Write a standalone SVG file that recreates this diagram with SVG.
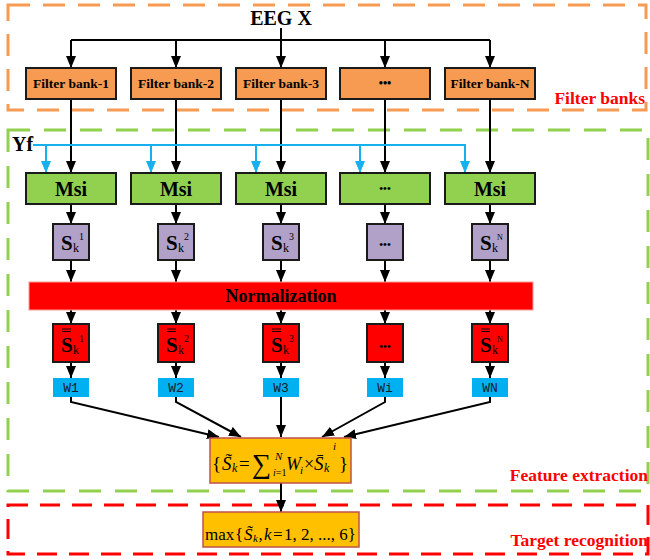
<svg xmlns="http://www.w3.org/2000/svg" width="650" height="560" viewBox="0 0 650 560">
<style>
.t{font-family:"Liberation Serif","Times New Roman",serif;fill:#000}
.b{font-weight:bold}
.i{font-style:italic}
.lbl{font-family:"Liberation Serif",serif;font-weight:bold;font-size:17.5px;fill:#FF0000}
.fb{fill:#F79A52;stroke:#1a1a1a;stroke-width:2}
.msi{fill:#92D050;stroke:#1a1a1a;stroke-width:2}
.sb{fill:#B1A0C7;stroke:#1a1a1a;stroke-width:2}
.rb{fill:#FF0000;stroke:#1a1a1a;stroke-width:2}
.wb{fill:#00B0F0;stroke:none}
.fx{fill:#FFC000;stroke:#C0504D;stroke-width:1.5}
.ln{fill:none;stroke:#000;stroke-width:2;marker-end:url(#ak)}
.bl{fill:none;stroke:#16B0EE;stroke-width:2;marker-end:url(#ab)}
.w{font-family:"Liberation Mono","DejaVu Sans Mono",monospace;font-size:13px;fill:#1a1a2a}
.fbt{font-size:13.5px}
.ms{font-size:20px}
.S{font-size:21px}
.sub{font-size:12px}
.sup{font-size:10px}
.bar{stroke:#1a0000;stroke-width:1;fill:none}
</style>
<defs>
<marker id="ak" markerUnits="userSpaceOnUse" markerWidth="12" markerHeight="12" refX="12" refY="5" orient="auto">
<path d="M0,0 L12,5 L0,10 z" fill="#000"/>
</marker>
<marker id="ab" markerUnits="userSpaceOnUse" markerWidth="12" markerHeight="12" refX="12" refY="5" orient="auto">
<path d="M0,0 L12,5 L0,10 z" fill="#16B0EE"/>
</marker>
</defs>
<rect width="650" height="560" fill="#fff"/>

<g id="regions">
<rect x="8" y="5" width="638" height="105" fill="none" stroke="#F79A52" stroke-width="3" stroke-dasharray="22 13"/>
<rect x="8" y="130" width="640" height="361" fill="none" stroke="#92D050" stroke-width="3" stroke-dasharray="22 14"/>
<rect x="8" y="505" width="640" height="49" fill="none" stroke="#FF0000" stroke-width="3" stroke-dasharray="20 12"/>
<text class="lbl" x="645" y="104" text-anchor="end">Filter banks</text>
<text class="lbl" x="648" y="481" text-anchor="end">Feature extraction</text>
<text class="lbl" x="648" y="546" text-anchor="end">Target recognition</text>
</g>

<g id="connectors">
<polyline points="281,28 281,40" fill="none" stroke="#000" stroke-width="2"/>
<line x1="71" y1="40" x2="490" y2="40" stroke="#000" stroke-width="2"/>
<line class="ln" x1="71" y1="40" x2="71" y2="68"/>
<line class="ln" x1="176" y1="40" x2="176" y2="68"/>
<line class="ln" x1="281" y1="40" x2="281" y2="68"/>
<line class="ln" x1="385" y1="40" x2="385" y2="68"/>
<line class="ln" x1="490" y1="40" x2="490" y2="68"/>

<line class="ln" x1="71" y1="99" x2="71" y2="173"/>
<line class="ln" x1="176" y1="99" x2="176" y2="173"/>
<line class="ln" x1="281" y1="99" x2="281" y2="173"/>
<line class="ln" x1="385" y1="99" x2="385" y2="173"/>
<line class="ln" x1="490" y1="99" x2="490" y2="173"/>

<line x1="33" y1="145" x2="466" y2="145" stroke="#16B0EE" stroke-width="2"/>
<line class="bl" x1="46" y1="145" x2="46" y2="173"/>
<line class="bl" x1="151" y1="145" x2="151" y2="173"/>
<line class="bl" x1="256" y1="145" x2="256" y2="173"/>
<line class="bl" x1="360" y1="145" x2="360" y2="173"/>
<line class="bl" x1="465" y1="145" x2="465" y2="173"/>

<line class="ln" x1="71" y1="204" x2="71" y2="224"/>
<line class="ln" x1="176" y1="204" x2="176" y2="224"/>
<line class="ln" x1="281" y1="204" x2="281" y2="224"/>
<line class="ln" x1="385" y1="204" x2="385" y2="224"/>
<line class="ln" x1="490" y1="204" x2="490" y2="224"/>

<line class="ln" x1="71" y1="260" x2="71" y2="282"/>
<line class="ln" x1="176" y1="260" x2="176" y2="282"/>
<line class="ln" x1="281" y1="260" x2="281" y2="282"/>
<line class="ln" x1="385" y1="260" x2="385" y2="282"/>
<line class="ln" x1="490" y1="260" x2="490" y2="282"/>

<line class="ln" x1="71" y1="310" x2="71" y2="324"/>
<line class="ln" x1="176" y1="310" x2="176" y2="324"/>
<line class="ln" x1="281" y1="310" x2="281" y2="324"/>
<line class="ln" x1="385" y1="310" x2="385" y2="324"/>
<line class="ln" x1="490" y1="310" x2="490" y2="324"/>

<line class="ln" x1="71" y1="362" x2="71" y2="378"/>
<line class="ln" x1="176" y1="362" x2="176" y2="378"/>
<line class="ln" x1="281" y1="362" x2="281" y2="378"/>
<line class="ln" x1="385" y1="362" x2="385" y2="378"/>
<line class="ln" x1="490" y1="362" x2="490" y2="378"/>

<polyline class="ln" points="71,397 71,402 219,437"/>
<polyline class="ln" points="176,397 176,402 241,437"/>
<line class="ln" x1="281" y1="397" x2="281" y2="437"/>
<polyline class="ln" points="385,397 385,402 322,437"/>
<polyline class="ln" points="490,397 490,402 344,437"/>

<line class="ln" x1="281" y1="483" x2="281" y2="512"/>
</g>

<g id="eeg"><text class="t b" x="281" y="25" font-size="20" text-anchor="middle">EEG X</text></g>
<g id="yf"><text class="t b" x="12" y="151" font-size="20">Yf</text></g>

<g id="fb1"><rect class="fb" x="26" y="68" width="90" height="31"/><text class="t b fbt" x="71" y="88" text-anchor="middle">Filter bank-1</text></g>
<g id="fb2"><rect class="fb" x="131" y="68" width="90" height="31"/><text class="t b fbt" x="176" y="88" text-anchor="middle">Filter bank-2</text></g>
<g id="fb3"><rect class="fb" x="236" y="68" width="90" height="31"/><text class="t b fbt" x="281" y="88" text-anchor="middle">Filter bank-3</text></g>
<g id="fb4"><rect class="fb" x="340" y="68" width="90" height="31"/><text class="t b" x="385" y="87" font-size="12" text-anchor="middle">•••</text></g>
<g id="fbN"><rect class="fb" x="445" y="68" width="90" height="31"/><text class="t b fbt" x="490" y="88" text-anchor="middle">Filter bank-N</text></g>

<g id="msi1"><rect class="msi" x="26" y="173" width="90" height="31"/><text class="t b ms" x="71" y="196" text-anchor="middle">Msi</text></g>
<g id="msi2"><rect class="msi" x="131" y="173" width="90" height="31"/><text class="t b ms" x="176" y="196" text-anchor="middle">Msi</text></g>
<g id="msi3"><rect class="msi" x="236" y="173" width="90" height="31"/><text class="t b ms" x="281" y="196" text-anchor="middle">Msi</text></g>
<g id="msi4"><rect class="msi" x="340" y="173" width="90" height="31"/><text class="t b" x="385" y="192" font-size="11" text-anchor="middle">•••</text></g>
<g id="msiN"><rect class="msi" x="445" y="173" width="90" height="31"/><text class="t b ms" x="490" y="196" text-anchor="middle">Msi</text></g>

<g id="s1"><rect class="sb" x="53" y="224" width="36" height="36"/><text class="t b S" x="61" y="250">S</text><text class="t sub" x="73" y="252">k</text><text class="t sup" x="79" y="240">1</text></g>
<g id="s2"><rect class="sb" x="158" y="224" width="36" height="36"/><text class="t b S" x="166" y="250">S</text><text class="t sub" x="178" y="252">k</text><text class="t sup" x="184" y="240">2</text></g>
<g id="s3"><rect class="sb" x="263" y="224" width="36" height="36"/><text class="t b S" x="271" y="250">S</text><text class="t sub" x="283" y="252">k</text><text class="t sup" x="289" y="240">3</text></g>
<g id="s4"><rect class="sb" x="367" y="224" width="36" height="36"/><text class="t b" x="385" y="248" font-size="11" text-anchor="middle">•••</text></g>
<g id="sN"><rect class="sb" x="472" y="224" width="36" height="36"/><text class="t b S" x="480" y="250">S</text><text class="t sub" x="492" y="252">k</text><text class="t" x="497" y="240" font-size="8">N</text></g>

<g id="norm"><rect x="29" y="282" width="504" height="28" fill="#FF0000" stroke="#FF9a9a" stroke-width="1"/><text class="t b" x="281" y="302" font-size="18" text-anchor="middle">Normalization</text></g>

<g id="n1"><rect class="rb" x="53" y="324" width="36" height="38"/><path class="bar" d="M62,329 h9 M62,331.5 h9"/><text class="t b S" x="61" y="352">S</text><text class="t sub" x="73" y="354">k</text><text class="t sup" x="79" y="342">1</text></g>
<g id="n2"><rect class="rb" x="158" y="324" width="36" height="38"/><path class="bar" d="M167,329 h9 M167,331.5 h9"/><text class="t b S" x="166" y="352">S</text><text class="t sub" x="178" y="354">k</text><text class="t sup" x="184" y="342">2</text></g>
<g id="n3"><rect class="rb" x="263" y="324" width="36" height="38"/><path class="bar" d="M272,329 h9 M272,331.5 h9"/><text class="t b S" x="271" y="352">S</text><text class="t sub" x="283" y="354">k</text><text class="t sup" x="289" y="342">3</text></g>
<g id="n4"><rect class="rb" x="367" y="324" width="36" height="38"/><text class="t b" x="385" y="350" font-size="11" text-anchor="middle">•••</text></g>
<g id="nN"><rect class="rb" x="472" y="324" width="36" height="38"/><path class="bar" d="M481,329 h9 M481,331.5 h9"/><text class="t b S" x="480" y="352">S</text><text class="t sub" x="492" y="354">k</text><text class="t" x="497" y="342" font-size="8">N</text></g>

<g id="w1"><rect class="wb" x="53" y="378" width="36" height="19"/><text class="w" x="71" y="392" text-anchor="middle">W1</text></g>
<g id="w2"><rect class="wb" x="158" y="378" width="36" height="19"/><text class="w" x="176" y="392" text-anchor="middle">W2</text></g>
<g id="w3"><rect class="wb" x="263" y="378" width="36" height="19"/><text class="w" x="281" y="392" text-anchor="middle">W3</text></g>
<g id="wi"><rect class="wb" x="367" y="378" width="36" height="19"/><text class="w" x="385" y="392" text-anchor="middle">Wi</text></g>
<g id="wN"><rect class="wb" x="472" y="378" width="36" height="19"/><text class="w" x="490" y="392" text-anchor="middle">WN</text></g>

<g id="sum">
<rect class="fx" x="210" y="438" width="141" height="45"/>
<text class="t" font-size="19"><tspan x="212" y="470">{</tspan><tspan class="i" x="222" y="470">S&#x303;</tspan><tspan class="i" font-size="12" x="232" y="472">k</tspan><tspan x="239" y="470">=</tspan><tspan font-size="27" x="252" y="473">∑</tspan><tspan class="i" font-size="11" x="275" y="460">N</tspan><tspan font-size="10" x="273" y="476"><tspan class="i">i</tspan>=1</tspan><tspan class="i" font-size="18" x="286" y="470">W</tspan><tspan class="i" font-size="11" x="300" y="474">i</tspan><tspan font-size="18" x="304" y="470">×</tspan><tspan class="i" x="314" y="470">S&#x304;</tspan><tspan class="i" font-size="12" x="324" y="472">k</tspan><tspan class="i" font-size="11" x="333" y="450">i</tspan><tspan x="339" y="470">}</tspan></text>
</g>

<g id="max">
<rect class="fx" x="203" y="512" width="156" height="35"/>
<text class="t" font-size="17"><tspan x="205" y="540">max</tspan><tspan x="235" y="540">{</tspan><tspan class="i" x="244" y="540">S&#x303;</tspan><tspan class="i" font-size="11" x="253" y="542">k</tspan><tspan x="258.5" y="540">,</tspan><tspan class="i" x="264" y="540">k</tspan><tspan x="273" y="540">=</tspan><tspan x="284" y="540">1, 2, ..., 6}</tspan></text>
</g>
</svg>
